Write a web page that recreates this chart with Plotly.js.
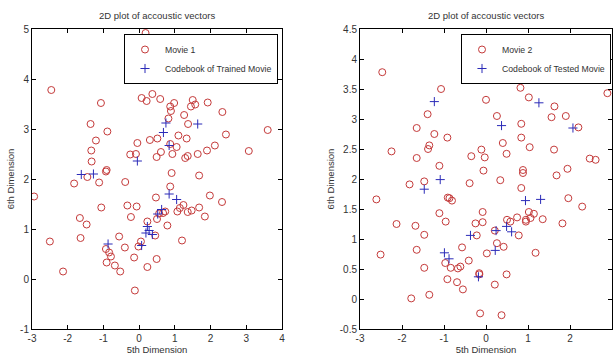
<!DOCTYPE html>
<html><head><meta charset="utf-8">
<script src="https://cdn.plot.ly/plotly-3.0.1.min.js"></script>
<style>html,body{margin:0;padding:0;background:#fff}#chart{width:615px;height:358px}</style>
</head><body><div id="chart"></div>
<script>
// Movie 1 acoustic vectors (5th dim, 6th dim)
const movie1X = [0.18,-2.46,-1.07,-1.36,-0.89,-1.21,-1.34,-1.33,-0.91,-0.93,0.07,0.21,0.37,0.59,0.87,0.98,0.89,1.50,1.45,1.57,1.92,1.26,2.33,0.82,1.37,2.43,3.60,1.10,-0.05,0.30,0.51,1.33,0.87,1.05,0.93,2.12,1.90,1.64,3.07,-0.25,-0.09,0.61,0.49,1.36,1.29,0.91,1.68,-1.45,-1.82,-1.12,-0.39,-2.94,0.87,0.47,1.98,2.32,-1.06,-0.33,-0.07,1.24,1.14,1.68,1.47,1.36,1.07,0.73,0.67,0.56,0.50,1.84,-1.66,-0.23,-1.47,0.23,0.79,-2.50,-1.64,-0.56,0.45,1.20,0.05,-0.02,-0.93,-0.84,-0.79,-0.40,-0.14,-0.91,-0.68,-0.53,0.49,0.23,-2.13,-0.12];
const movie1Y = [4.92,3.78,3.52,3.10,2.95,2.77,2.57,2.35,2.18,2.15,3.62,3.56,3.70,3.60,3.45,3.52,3.36,3.58,3.45,3.49,3.53,3.28,3.34,3.21,3.10,2.89,2.98,2.87,2.72,2.78,2.81,2.81,2.70,2.64,2.50,2.67,2.57,2.50,2.56,2.49,2.50,2.54,2.44,2.46,2.42,2.12,2.07,2.04,1.91,1.93,1.94,1.65,1.85,1.63,1.67,1.54,1.43,1.47,1.45,1.48,1.42,1.43,1.37,1.34,1.35,1.35,1.32,1.31,1.20,1.25,1.22,1.24,1.09,1.15,1.07,0.75,0.82,0.85,0.87,0.77,0.75,0.65,0.60,0.53,0.45,0.63,0.43,0.33,0.27,0.15,0.40,0.24,0.15,-0.23];
// Codebook of trained movie
const code1X = [0.75,0.68,0.84,1.64,-0.05,-1.62,-1.28,0.84,1.05,0.63,0.52,0.23,0.19,0.28,0.37,-0.87,0.07];
const code1Y = [3.12,2.93,2.67,3.10,2.36,2.09,2.10,1.70,1.59,1.39,1.30,1.05,0.92,0.97,0.89,0.70,0.67];
// Movie 2 acoustic vectors
const movie2X = [-2.47,-1.07,0.00,0.82,1.02,1.63,1.56,1.90,2.89,2.20,0.26,0.84,-1.39,-1.65,-1.23,-0.92,-1.35,-1.38,-2.25,-1.65,-1.11,0.84,1.04,0.40,0.49,-0.11,-0.03,-0.35,1.62,2.47,2.61,-0.06,0.88,0.88,1.94,1.68,-1.47,-1.82,-0.39,0.34,0.84,-2.61,-0.91,-0.87,-0.81,1.96,2.29,-1.11,-0.08,1.02,1.14,1.06,0.95,0.95,1.35,0.74,0.50,0.58,-0.96,-0.25,-0.08,-2.13,-1.68,1.82,0.21,-1.47,-0.22,0.78,0.26,-0.57,0.42,1.18,-1.65,-2.51,0.02,-0.41,-0.97,-0.84,-0.67,-0.61,-1.47,-0.16,-0.16,0.49,-0.92,-0.69,-0.55,0.21,-1.35,-1.78,-0.14,0.37];
const movie2Y = [3.78,3.50,3.32,3.52,3.36,3.21,3.03,3.05,3.43,2.86,3.05,2.92,3.08,2.85,2.75,2.69,2.56,2.50,2.46,2.35,2.22,2.69,2.53,2.60,2.42,2.49,2.36,2.38,2.49,2.34,2.32,2.14,2.15,2.10,2.17,2.06,1.96,1.91,1.93,1.98,1.85,1.66,1.69,1.68,1.64,1.68,1.54,1.43,1.45,1.45,1.42,1.35,1.32,1.29,1.33,1.36,1.32,1.29,1.29,1.26,1.28,1.25,1.22,1.26,1.14,1.07,1.06,1.06,0.93,0.86,0.87,0.77,0.82,0.74,0.76,0.64,0.60,0.52,0.51,0.54,0.52,0.43,0.41,0.41,0.33,0.28,0.16,0.24,0.07,0.01,-0.24,-0.27];
// Codebook of tested movie
const code2X = [-1.23,1.26,0.37,2.07,-1.09,-1.47,0.94,1.30,-0.37,0.24,0.49,0.61,-0.99,-0.88,0.22,-0.18];
const code2Y = [3.29,3.27,2.89,2.85,1.99,1.83,1.64,1.66,1.06,1.14,1.21,1.12,0.77,0.67,0.81,0.37];

const x1Ticks = [-3,-2,-1,0,1,2,3,4];
const x1Labels = ['-3','-2','-1','0','1','2','3','4'];
const y1Ticks = [-1,0,1,2,3,4,5];
const y1Labels = ['-1','0','1','2','3','4','5'];
const x2Ticks = [-3,-2,-1,0,1,2,3];
const x2Labels = ['-3','-2','-1','0','1','2','3'];
const y2Ticks = [-0.5,0,0.5,1,1.5,2,2.5,3,3.5,4,4.5];
const y2Labels = ['-0.5','0','0.5','1','1.5','2','2.5','3','3.5','4','4.5'];

const FONT = '"Liberation Sans Narrow", "Arial Narrow", "Liberation Sans", Arial, sans-serif';
const circ = {symbol:'circle-open', size:7, color:'#c43a3a', line:{width:1, color:'#c43a3a'}};
const plus = {symbol:'cross-thin-open', size:6.5, color:'#2b2bb8', line:{width:1, color:'#2b2bb8'}};

const traces = [
  {x:movie1X, y:movie1Y, mode:'markers', type:'scatter', name:'Movie 1', marker:circ, xaxis:'x', yaxis:'y', legend:'legend'},
  {x:code1X, y:code1Y, mode:'markers', type:'scatter', name:'Codebook of Trained Movie', marker:plus, xaxis:'x', yaxis:'y', legend:'legend'},
  {x:movie2X, y:movie2Y, mode:'markers', type:'scatter', name:'Movie 2', marker:circ, xaxis:'x2', yaxis:'y2', legend:'legend2'},
  {x:code2X, y:code2Y, mode:'markers', type:'scatter', name:'Codebook of Tested Movie', marker:plus, xaxis:'x2', yaxis:'y2', legend:'legend2'}
];

const ax = {showline:true, linecolor:'#000', linewidth:1, mirror:'ticks', ticks:'inside', ticklen:4, tickcolor:'#000',
  showgrid:false, zeroline:false, tickfont:{family:FONT, size:10, color:'#333'}};
const ttl = (t)=>({text:t, font:{family:FONT, size:9.5, color:'#333'}});
const leg = (x)=>({x:x, y:0.905, xanchor:'right', yanchor:'top', bgcolor:'#fff', bordercolor:'#000', borderwidth:1,
  font:{family:FONT, size:8.7, color:'#333'}, tracegroupgap:0, itemwidth:30});

const layout = {
  width:615, height:358, margin:{l:0,r:0,t:0,b:0}, paper_bgcolor:'#fff', plot_bgcolor:'#fff',
  showlegend:true,
  xaxis:Object.assign({}, ax, {domain:[32/615, 282/615], range:[-3,4], tickvals:x1Ticks, ticktext:x1Labels, anchor:'y',
    title:Object.assign(ttl('5th Dimension'), {standoff:2})}),
  yaxis:Object.assign({}, ax, {domain:[29/358, 329/358], range:[-1,5], tickvals:y1Ticks, ticktext:y1Labels, anchor:'x',
    title:Object.assign(ttl('6th Dimension'), {standoff:3})}),
  xaxis2:Object.assign({}, ax, {domain:[360/615, 612/615], range:[-3,3], tickvals:x2Ticks, ticktext:x2Labels, anchor:'y2',
    title:Object.assign(ttl('5th Dimension'), {standoff:2})}),
  yaxis2:Object.assign({}, ax, {domain:[29/358, 329/358], range:[-0.5,4.5], tickvals:y2Ticks, ticktext:y2Labels, anchor:'x2',
    title:Object.assign(ttl('6th Dimension'), {standoff:3})}),
  legend:leg(278/615),
  legend2:leg(611/615),
  annotations:[
    {text:'2D plot of accoustic vectors', x:(32+282)/2/615, y:1-16/358, xref:'paper', yref:'paper', showarrow:false,
      xanchor:'center', yanchor:'middle', font:{family:FONT, size:9.5, color:'#333'}},
    {text:'2D plot of accoustic vectors', x:(360+612)/2/615, y:1-16/358, xref:'paper', yref:'paper', showarrow:false,
      xanchor:'center', yanchor:'middle', font:{family:FONT, size:9.5, color:'#333'}}
  ]
};
Plotly.newPlot('chart', traces, layout, {displayModeBar:false, staticPlot:true});
</script></body></html>
